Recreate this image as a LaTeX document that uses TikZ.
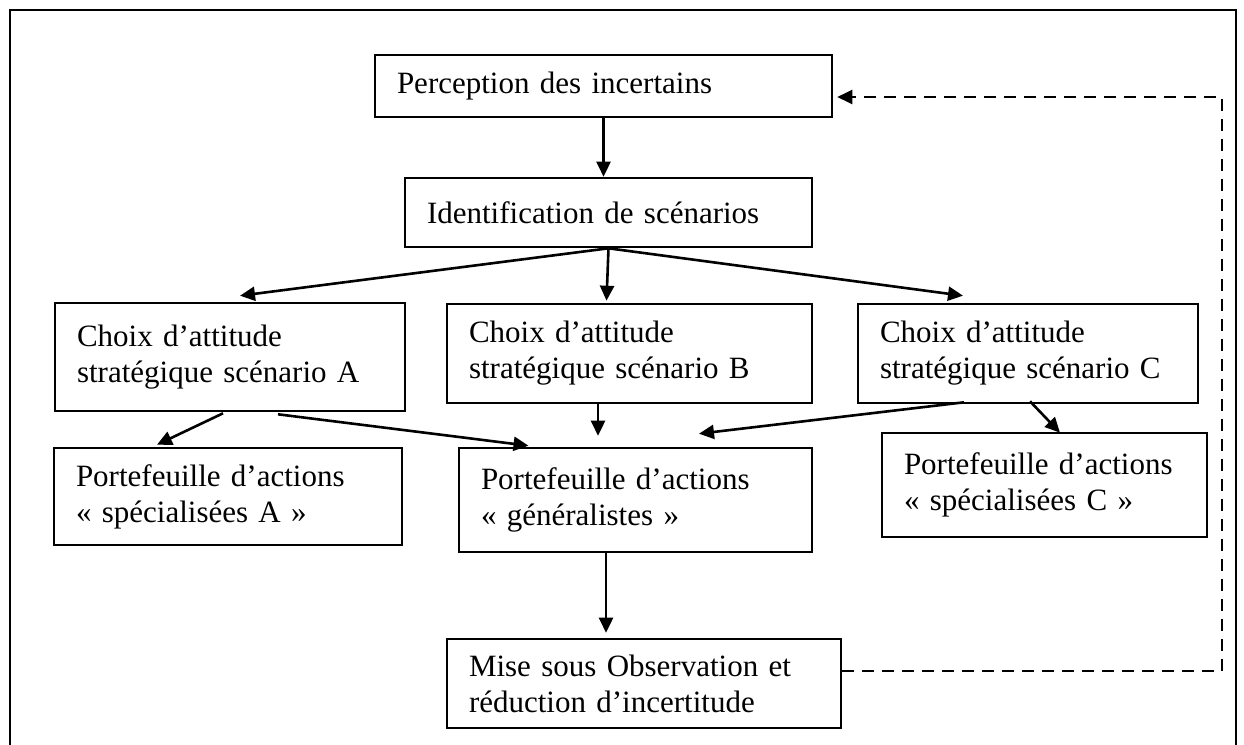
\documentclass[tikz,border=0pt]{standalone}
\usepackage{fontspec}
\setmainfont{Liberation Serif}
\usetikzlibrary{calc,arrows.meta}

\begin{document}
\begin{tikzpicture}[x=1pt,y=-1pt,
  box/.style n args={2}{draw, line width=2.6pt, rectangle,
    minimum width=#1, minimum height=#2, inner xsep=22pt, inner ysep=0pt,
    text width=#1-44pt, align=left,
    font=\fontsize{31}{36}\selectfont},
  link/.style={line width=2.6pt, -{Triangle[length=15pt,width=14pt]}},
  feedback/.style={line width=2.6pt, dash pattern=on 12pt off 8pt,
    -{Triangle[length=15pt,width=14pt]}}]

% page and outer frame
\fill[white] (0,0) rectangle (1244,744);
\useasboundingbox (0,0) rectangle (1244,744);
\draw[line width=2pt] (10,750) -- (10,10) -- (1236,10) -- (1236,750);

% boxes
\node[box={457pt}{62pt}]  (perc)  at (603.5,86)   {\mbox{Perception des incertains}};
\node[box={407pt}{69pt}]  (ident) at (608.5,212.5) {\mbox{Identification de scénarios}};
\node[box={350pt}{108pt}] (chA)   at (230,357)    {\mbox{Choix d’attitude}\\\mbox{stratégique scénario A}};
\node[box={365pt}{99pt}]  (chB)   at (629.5,353.5) {\mbox{Choix d’attitude}\\\mbox{stratégique scénario B}};
\node[box={340pt}{99pt}]  (chC)   at (1028,353.5) {\mbox{Choix d’attitude}\\\mbox{stratégique scénario C}};
\node[box={348pt}{97pt}]  (pfA)   at (228,496.5)  {\mbox{Portefeuille d’actions}\\\mbox{« spécialisées A »}};
\node[box={353pt}{104pt}] (pfG)   at (635.5,500)  {\mbox{Portefeuille d’actions}\\\mbox{« généralistes »}};
\node[box={325pt}{104pt}] (pfC)   at (1044.5,485) {\mbox{Portefeuille d’actions}\\\mbox{« spécialisées C »}};
\node[box={394pt}{89pt}]  (mise)  at (644,683.5)  {\mbox{Mise sous Observation et}\\\mbox{réduction d’incertitude}};

% corner of the feedback loop
\coordinate (loop) at (1222,400);

% connectors
\draw[link] (perc.south) -- (perc.south |- ident.north);
\draw[link] (ident.south) -- ($(chA.north)+(10,-6)$);
\draw[link] (ident.south) -- ($(ident.south |- chB.north)+(-2,-2)$);
\draw[link] (ident.south) -- ($(chC.north)+(-65,-7)$);
\draw[link] ($(chA.south)+(-7,1)$) -- ($(pfA.north)+(-71,-2)$);
\draw[link] ($(chA.south)+(48,2)$) -- ($(pfG.north)+(-107,-1)$);
\draw[link] ($(chB.south)+(-31.5,0)$) -- ($(pfG.north)+(-37.5,-11)$);
\draw[link] ($(chC.south)+(-64,-2)$) -- ($(pfG.north)+(63.5,-13)$);
\draw[link] ($(chC.south)+(2,-3)$) -- ($(pfC.north)+(15.5,1)$);
\draw[link] ($(pfG.south)+(-29.5,0)$) -- ($(mise.north)+(-38,-5)$);
\draw[feedback] ($(mise.east)+(0,-12.5)$) -| (loop) |- ($(perc.east)+(4,11)$);
\end{tikzpicture}
\end{document}
